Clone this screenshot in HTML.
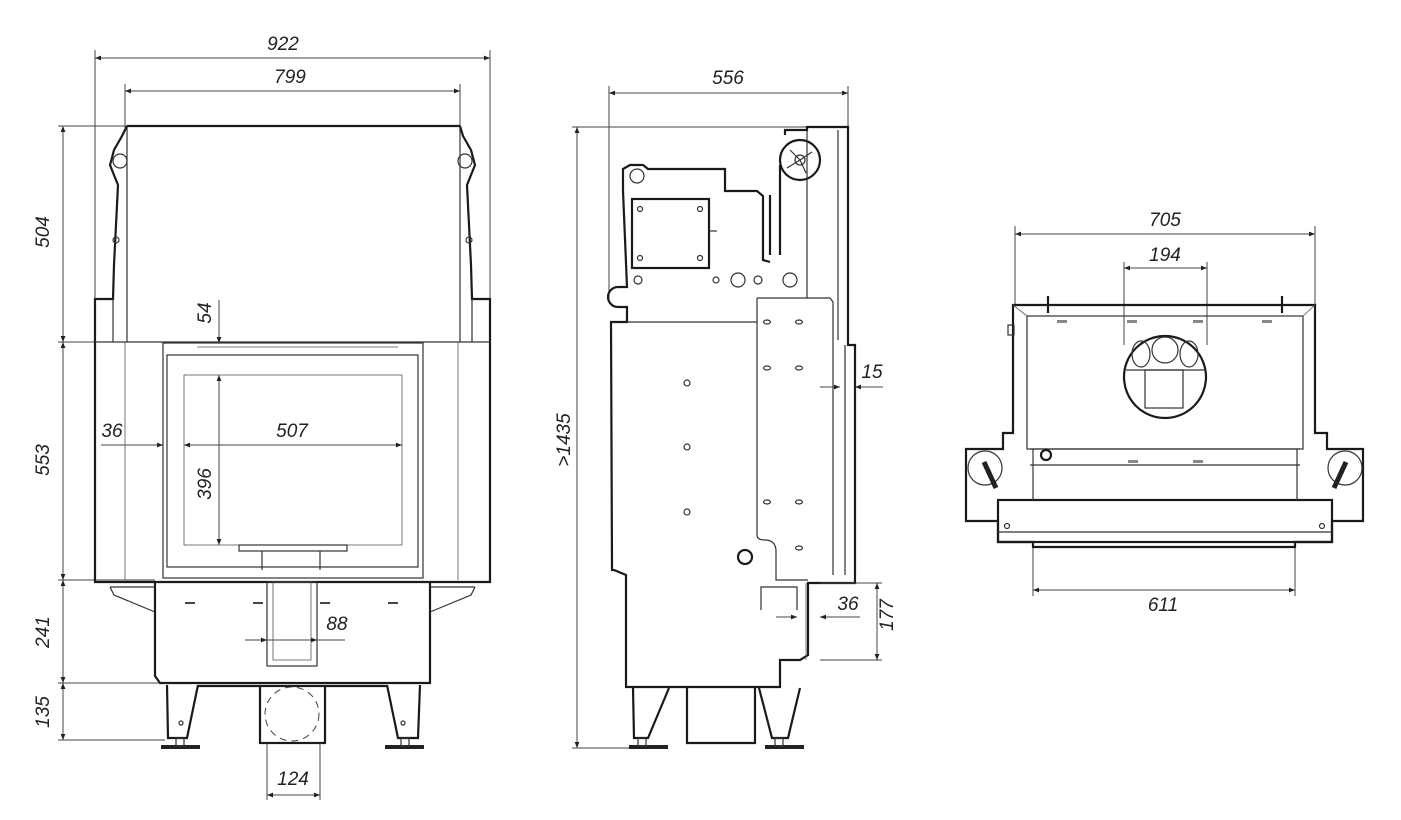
<!DOCTYPE html>
<html><head><meta charset="utf-8"><style>
html,body{margin:0;padding:0;background:#fff;}
svg{display:block;}
text{font-family:"Liberation Sans",sans-serif;font-style:italic;font-size:19px;fill:#222;}
.k{fill:none;stroke:#1a1a1a;stroke-width:2.2;}
.m{fill:none;stroke:#333;stroke-width:1.2;}
.t{fill:none;stroke:#555;stroke-width:0.8;}
.d{fill:none;stroke:#444;stroke-width:1;}
.h{fill:#fff;stroke:#333;stroke-width:1;}
</style></head><body>
<svg width="1401" height="820" viewBox="0 0 1401 820" xmlns="http://www.w3.org/2000/svg">
<defs>
<marker id="a" viewBox="0 0 10 10" refX="10" refY="5" markerWidth="9" markerHeight="6" orient="auto-start-reverse"><path d="M0,1 L10,5 L0,9 z" fill="#222"/></marker>
</defs>

<!-- ================= FRONT VIEW ================= -->
<!-- dims -->
<line class="d" x1="95" y1="50" x2="95" y2="300"/><line class="d" x1="490" y1="50" x2="490" y2="300"/>
<line class="d" x1="95" y1="58" x2="490" y2="58" marker-start="url(#a)" marker-end="url(#a)"/>
<text x="283" y="50" text-anchor="middle">922</text>
<line class="d" x1="125" y1="84" x2="125" y2="128"/><line class="d" x1="460" y1="84" x2="460" y2="128"/>
<line class="d" x1="125" y1="91" x2="460" y2="91" marker-start="url(#a)" marker-end="url(#a)"/>
<text x="290" y="83" text-anchor="middle">799</text>

<line class="d" x1="58" y1="126" x2="127" y2="126"/>
<line class="d" x1="58" y1="342" x2="165" y2="342"/>
<line class="d" x1="58" y1="580" x2="155" y2="580"/>
<line class="d" x1="58" y1="683" x2="160" y2="683"/>
<line class="d" x1="58" y1="740" x2="165" y2="740"/>
<line class="d" x1="63" y1="126" x2="63" y2="342" marker-start="url(#a)" marker-end="url(#a)"/>
<line class="d" x1="63" y1="342" x2="63" y2="580" marker-start="url(#a)" marker-end="url(#a)"/>
<line class="d" x1="63" y1="580" x2="63" y2="683" marker-start="url(#a)" marker-end="url(#a)"/>
<line class="d" x1="63" y1="683" x2="63" y2="740" marker-start="url(#a)" marker-end="url(#a)"/>
<text transform="translate(49,232) rotate(-90)" text-anchor="middle">504</text>
<text transform="translate(49,460) rotate(-90)" text-anchor="middle">553</text>
<text transform="translate(49,632) rotate(-90)" text-anchor="middle">241</text>
<text transform="translate(49,712) rotate(-90)" text-anchor="middle">135</text>

<!-- top body -->
<line class="k" x1="127" y1="126" x2="460" y2="126"/>
<line class="m" x1="127" y1="126" x2="127" y2="342"/>
<line class="m" x1="460" y1="126" x2="460" y2="342"/>
<path class="k" d="M127,126 L122,136 L114,150 L110,165 L118,185 L114,265 L113,299 L95,299 L95,582 L490,582 L490,299 L472,299 L471,265 L467,185 L475,165 L471,150 L463,136 L460,126"/>
<circle class="m" cx="120" cy="161" r="7"/><circle class="m" cx="465" cy="161" r="7"/>
<circle class="m" cx="116" cy="240" r="3"/><circle class="m" cx="469" cy="240" r="3"/>
<!-- middle section -->
<line class="m" x1="95" y1="342" x2="490" y2="342"/>
<line class="t" x1="125" y1="342" x2="125" y2="580"/>
<line class="t" x1="458" y1="342" x2="458" y2="580"/>
<line class="m" x1="113" y1="299" x2="113" y2="342"/><line class="m" x1="472" y1="299" x2="472" y2="342"/>
<rect class="m" x="163" y="343" width="260" height="235"/>
<rect class="m" x="167" y="355" width="251" height="212"/>
<rect class="t" x="184" y="375" width="218" height="170"/>
<line class="t" x1="197" y1="347" x2="398" y2="347"/>
<rect class="m" x="239" y="545" width="108" height="6"/>
<line class="m" x1="262" y1="551" x2="262" y2="570"/><line class="m" x1="320" y1="551" x2="320" y2="570"/>
<!-- 54 / 396 / 507 / 36 dims -->
<line class="d" x1="219" y1="300" x2="219" y2="343" marker-end="url(#a)"/>
<text transform="translate(211,313) rotate(-90)" text-anchor="middle">54</text>
<line class="d" x1="219" y1="375" x2="219" y2="545" marker-start="url(#a)" marker-end="url(#a)"/>
<text transform="translate(211,484) rotate(-90)" text-anchor="middle">396</text>
<line class="d" x1="184" y1="445" x2="402" y2="445" marker-start="url(#a)" marker-end="url(#a)"/>
<text x="292" y="437" text-anchor="middle">507</text>
<line class="d" x1="101" y1="445" x2="163" y2="445" marker-end="url(#a)"/>
<text x="112" y="437" text-anchor="middle">36</text>
<!-- lower body -->
<path class="k" d="M155,582 L155,676 L160,683 L430,683 L430,582"/>
<path class="m" d="M110,587 L155,587 M110,587 L114,595 L155,612"/>
<path class="m" d="M475,587 L430,587 M475,587 L471,595 L430,612"/>
<rect class="m" x="267" y="582" width="50" height="84"/>
<rect class="t" x="273" y="582" width="38" height="78"/>
<g stroke="#444" stroke-width="2"><line x1="185" y1="603" x2="195" y2="603"/><line x1="253" y1="603" x2="263" y2="603"/><line x1="320" y1="603" x2="330" y2="603"/><line x1="388" y1="603" x2="398" y2="603"/></g>
<line class="d" x1="245" y1="640" x2="267" y2="640" marker-end="url(#a)"/>
<line class="d" x1="317" y1="640" x2="345" y2="640"/>
<line class="d" x1="267" y1="640" x2="317" y2="640" marker-end="url(#a)"/>
<text x="337" y="630" text-anchor="middle">88</text>
<!-- legs -->
<path class="k" d="M167,685 L168,738 L187,738 L198,685"/>
<path class="k" d="M387,685 L398,738 L418,738 L420,685"/>
<rect x="161" y="745" width="39" height="4" fill="#222"/><rect x="385" y="745" width="39" height="4" fill="#222"/>
<rect x="176" y="738" width="8" height="8" class="m"/><rect x="401" y="738" width="8" height="8" class="m"/>
<circle class="m" cx="181" cy="723" r="2"/><circle class="m" cx="403" cy="723" r="2"/>
<line class="k" x1="198" y1="686" x2="260" y2="686"/><line class="k" x1="325" y1="686" x2="387" y2="686"/>
<rect class="k" x="260" y="686" width="65" height="57"/>
<circle cx="292" cy="714" r="27" fill="none" stroke="#444" stroke-width="1" stroke-dasharray="7,5"/>
<line class="d" x1="267" y1="743" x2="267" y2="800"/><line class="d" x1="320" y1="743" x2="320" y2="800"/>
<line class="d" x1="267" y1="795" x2="320" y2="795" marker-start="url(#a)" marker-end="url(#a)"/>
<text x="293" y="785" text-anchor="middle">124</text>

<!-- ================= SIDE VIEW ================= -->
<line class="d" x1="609" y1="86" x2="609" y2="300"/><line class="d" x1="848" y1="86" x2="848" y2="127"/>
<line class="d" x1="609" y1="93" x2="848" y2="93" marker-start="url(#a)" marker-end="url(#a)"/>
<text x="728" y="84" text-anchor="middle">556</text>
<line class="d" x1="572" y1="127" x2="848" y2="127"/>
<line class="d" x1="572" y1="748" x2="632" y2="748"/>
<line class="d" x1="577" y1="127" x2="577" y2="748" marker-start="url(#a)" marker-end="url(#a)"/>
<text transform="translate(570,440) rotate(-90)" text-anchor="middle">&gt;1435</text>

<path class="k" d="M623,191 L623,169 L630,165 L643,165 L648,169 L725,169 L725,191 L757,191 L763,196 L763,260 L770,262"/>
<circle class="m" cx="637" cy="176" r="7"/>
<path class="k" d="M623,191 L627,287 L618,287 A10,10 0 1 0 618,307 L627,307 L627,322 L611,322 L612,570 L614,570 L626,575 L626,630 L626,687 L780,687 L780,660 L800,660 L808,655 L808,583 L855,583 L855,345 L848,345 L848,127 L807,127 L807,130 L785,130 L785,135"/>
<circle cx="800" cy="160" r="20" class="k"/>
<circle cx="800" cy="160" r="5" class="m"/>
<path class="m" d="M800,160 L790,150 M800,160 L812,152 M800,160 L806,173 M800,160 L787,168"/>
<path class="k" d="M780,165 L780,255 M770,255 L770,195"/>
<line class="m" x1="807" y1="130" x2="807" y2="298"/>
<line class="m" x1="838" y1="130" x2="838" y2="340"/>
<rect class="k" x="632" y="199" width="77" height="69"/>
<circle class="m" cx="640" cy="209" r="2.5"/><circle class="m" cx="700" cy="209" r="2.5"/><circle class="m" cx="640" cy="258" r="2.5"/><circle class="m" cx="700" cy="258" r="2.5"/>
<line class="m" x1="709" y1="231" x2="717" y2="231"/>
<circle class="m" cx="638" cy="280" r="4"/><circle class="m" cx="716" cy="280" r="3"/><circle class="m" cx="738" cy="280" r="7"/><circle class="m" cx="758" cy="280" r="4"/>
<circle class="m" cx="790" cy="280" r="7"/>
<line class="m" x1="627" y1="322" x2="757" y2="322"/>
<path class="m" d="M757,298 L757,535 Q757,540 765,540 Q775,540 776,550 L776,580 L808,580 M757,298 L830,298 L833,302 L833,575"/>
<line class="m" x1="845" y1="345" x2="845" y2="575"/>
<g class="m"><circle cx="687" cy="383" r="3"/><circle cx="687" cy="447" r="3"/><circle cx="687" cy="512" r="3"/>
<ellipse cx="767" cy="368" rx="3.5" ry="2"/><ellipse cx="799" cy="368" rx="3.5" ry="2"/>
<ellipse cx="767" cy="502" rx="3.5" ry="2"/><ellipse cx="799" cy="502" rx="3.5" ry="2"/>
<ellipse cx="767" cy="322" rx="3.5" ry="2"/><ellipse cx="799" cy="322" rx="3.5" ry="2"/>
<ellipse cx="799" cy="548" rx="3.5" ry="2"/></g>
<circle class="k" cx="745" cy="557" r="7"/>
<path class="m" d="M761,610 L761,587 L797,587 L797,610"/>
<line class="t" x1="806" y1="583" x2="806" y2="660"/>
<line class="d" x1="820" y1="387" x2="840" y2="387" marker-end="url(#a)"/>
<line class="d" x1="883" y1="387" x2="855" y2="387" marker-end="url(#a)"/>
<text x="872" y="378" text-anchor="middle">15</text>
<line class="d" x1="776" y1="617" x2="797" y2="617" marker-end="url(#a)"/>
<line class="d" x1="860" y1="617" x2="820" y2="617" marker-end="url(#a)"/>
<text x="848" y="610" text-anchor="middle">36</text>
<line class="d" x1="820" y1="583" x2="882" y2="583"/><line class="d" x1="820" y1="660" x2="882" y2="660"/>
<line class="d" x1="877" y1="583" x2="877" y2="660" marker-start="url(#a)" marker-end="url(#a)"/>
<text transform="translate(893,615) rotate(-90)" text-anchor="middle">177</text>
<!-- legs -->
<path class="k" d="M633,688 L634,738 L648,738 L669,688"/>
<path class="k" d="M759,688 L772,738 L788,738 L800,688"/>
<rect x="629" y="745" width="39" height="4" fill="#222"/><rect x="765" y="745" width="39" height="4" fill="#222"/>
<rect class="m" x="638" y="738" width="8" height="8"/><rect class="m" x="775" y="738" width="8" height="8"/>
<path class="k" d="M687,688 L687,743 L755,743 L755,688"/>

<!-- ================= TOP VIEW ================= -->
<line class="d" x1="1015" y1="226" x2="1015" y2="305"/><line class="d" x1="1315" y1="226" x2="1315" y2="305"/>
<line class="d" x1="1015" y1="234" x2="1315" y2="234" marker-start="url(#a)" marker-end="url(#a)"/>
<text x="1165" y="226" text-anchor="middle">705</text>
<line class="d" x1="1124" y1="262" x2="1124" y2="345"/><line class="d" x1="1207" y1="262" x2="1207" y2="345"/>
<line class="d" x1="1124" y1="268" x2="1207" y2="268" marker-start="url(#a)" marker-end="url(#a)"/>
<text x="1165" y="261" text-anchor="middle">194</text>
<line class="d" x1="1033" y1="545" x2="1033" y2="596"/><line class="d" x1="1295" y1="545" x2="1295" y2="596"/>
<line class="d" x1="1033" y1="590" x2="1295" y2="590" marker-start="url(#a)" marker-end="url(#a)"/>
<text x="1163" y="611" text-anchor="middle">611</text>

<path class="k" d="M1013,305 L1013,433 L1003,433 L1003,449 L966,449 L966,521 L998,521 L998,542 L1033,542 L1033,547 L1295,547 L1295,542 L1332,542 L1332,521 L1363,521 L1363,449 L1327,449 L1327,433 L1315,433 L1315,305 Z"/>
<rect class="m" x="1027" y="316" width="276" height="133"/>
<path class="t" d="M1013,305 L1027,316 M1315,305 L1303,316"/>
<line class="k" x1="1048" y1="296" x2="1048" y2="313"/><line class="k" x1="1282" y1="296" x2="1282" y2="313"/>
<rect class="k" x="998" y="500" width="334" height="42"/>
<line class="m" x1="998" y1="532" x2="1332" y2="532"/>
<line class="m" x1="1030" y1="449" x2="1300" y2="449"/>
<line class="m" x1="1030" y1="465" x2="1300" y2="465"/>
<line class="m" x1="1033" y1="449" x2="1033" y2="500"/><line class="m" x1="1297" y1="449" x2="1297" y2="500"/>
<circle class="k" cx="1165" cy="377" r="41"/>
<circle class="m" cx="1165" cy="350" r="13"/>
<ellipse class="m" cx="1141" cy="354" rx="9" ry="13"/><ellipse class="m" cx="1189" cy="354" rx="9" ry="13"/>
<line class="m" x1="1126" y1="370" x2="1204" y2="370"/>
<rect class="m" x="1145" y="370" width="38" height="38"/>
<circle class="m" cx="985" cy="468" r="17"/><circle class="m" cx="1345" cy="468" r="17"/>
<path d="M984,462 L996,488 M1346,462 L1334,488" stroke="#222" stroke-width="5"/>
<circle class="k" cx="1046" cy="455" r="5"/>
<g fill="#888"><rect x="1057" y="320" width="10" height="3"/><rect x="1127" y="320" width="10" height="3"/><rect x="1193" y="320" width="10" height="3"/><rect x="1262" y="320" width="10" height="3"/>
<rect x="1128" y="460" width="10" height="3"/><rect x="1193" y="460" width="10" height="3"/></g>
<circle class="m" cx="1007" cy="526" r="2.5"/><circle class="m" cx="1322" cy="526" r="2.5"/>
<rect class="m" x="1008" y="325" width="6" height="10"/>
</svg>
</body></html>
